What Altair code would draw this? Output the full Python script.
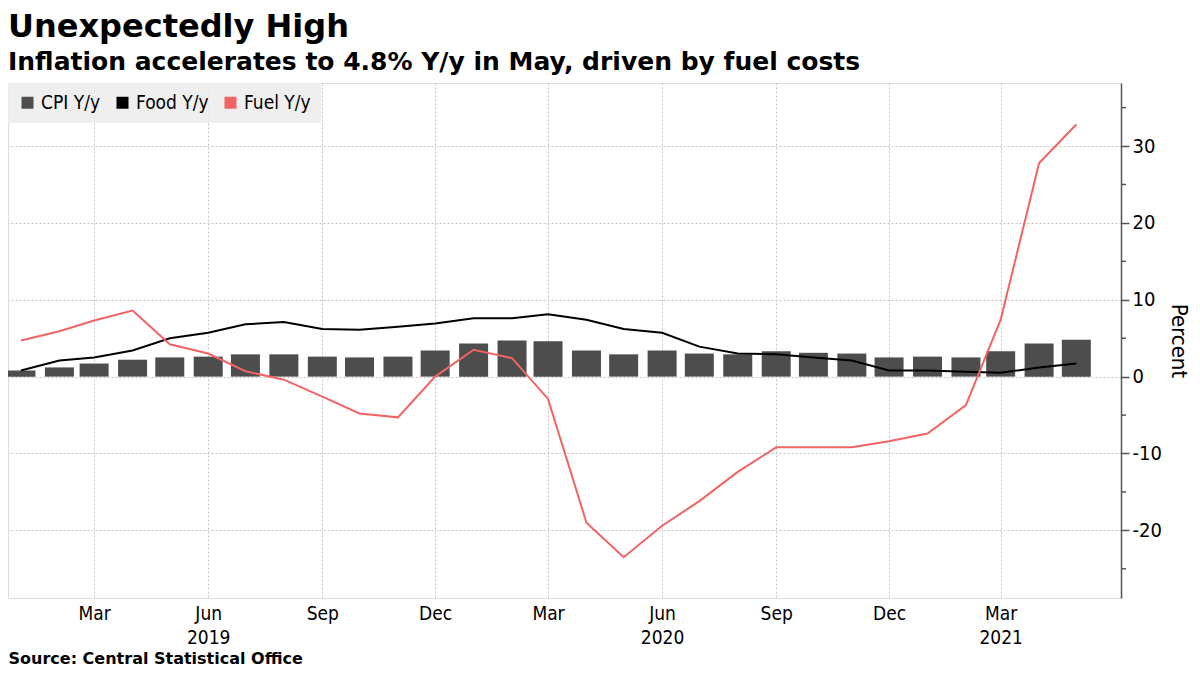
import altair as alt
import pandas as pd

months = [
    "2019-01-01", "2019-02-01", "2019-03-01", "2019-04-01", "2019-05-01", "2019-06-01",
    "2019-07-01", "2019-08-01", "2019-09-01", "2019-10-01", "2019-11-01", "2019-12-01",
    "2020-01-01", "2020-02-01", "2020-03-01", "2020-04-01", "2020-05-01", "2020-06-01",
    "2020-07-01", "2020-08-01", "2020-09-01", "2020-10-01", "2020-11-01", "2020-12-01",
    "2021-01-01", "2021-02-01", "2021-03-01", "2021-04-01", "2021-05-01",
]
cpi = [0.8, 1.2, 1.7, 2.2, 2.5, 2.6, 2.9, 2.9, 2.6, 2.5, 2.6, 3.4,
       4.3, 4.7, 4.6, 3.4, 2.9, 3.4, 3.0, 2.9, 3.3, 3.1, 3.0, 2.5,
       2.6, 2.5, 3.3, 4.3, 4.8]
food = [0.8, 2.1, 2.5, 3.4, 5.0, 5.7, 6.8, 7.1, 6.2, 6.1, 6.5, 6.9,
        7.6, 7.6, 8.1, 7.4, 6.2, 5.7, 3.9, 3.0, 2.9, 2.5, 2.1, 0.8,
        0.8, 0.65, 0.5, 1.2, 1.7]
fuel = [4.7, 5.9, 7.3, 8.6, 4.2, 3.0, 0.7, -0.4, -2.6, -4.8, -5.3, 0.0,
        3.5, 2.4, -2.9, -19.0, -23.5, -19.4, -16.2, -12.4, -9.2, -9.2, -9.2, -8.4,
        -7.4, -3.7, 7.4, 27.8, 32.8]

series_names = ["CPI Y/y", "Food Y/y", "Fuel Y/y"]
series_colors = ["#4d4d4d", "#000000", "#f26464"]

y_ticks = [-20, -10, 0, 10, 20, 30]
y_minor = [-25, -15, -5, 5, 15, 25, 35]
y_domain = [-28.8, 38.2]

x_tick_months = [(2019, 3), (2019, 6), (2019, 9), (2019, 12),
                 (2020, 3), (2020, 6), (2020, 9), (2020, 12), (2021, 3)]

rows = []
for name, vals in zip(series_names, [cpi, food, fuel]):
    for m, v in zip(months, vals):
        rows.append({"date": m, "series": name, "value": v})
df = pd.DataFrame(rows)
df_minor = pd.DataFrame({"value": y_minor})

W, H = 1113, 515
LABEL_FONT = "DejaVu Sans Condensed, DejaVu Sans"
TITLE_FONT = "DejaVu Sans"

x_scale = alt.Scale(
    type="utc", nice=False,
    domain=[alt.DateTime(year=2018, month=12, date=25, hours=14, utc=True),
            alt.DateTime(year=2021, month=6, date=2, utc=True)],
)
x_axis = alt.Axis(
    values=[alt.DateTime(year=y, month=m, date=1, utc=True) for y, m in x_tick_months],
    labelExpr=("[utcFormat(datum.value, '%b'), "
               "((utcmonth(datum.value) == 5 && utcyear(datum.value) < 2021) || "
               "(utcyear(datum.value) == 2021 && utcmonth(datum.value) == 2)) "
               "? utcFormat(datum.value, '%Y') : '']"),
    grid=True, gridDash=[2, 2], gridColor="#c4c4c4", gridWidth=1,
    domain=False, ticks=False,
    labelFont=LABEL_FONT, labelFontSize=19, labelColor="black",
    labelPadding=6, labelLineHeight=24, labelOverlap=False, labelFlush=False,
    title="Source: Central Statistical Office", titleAnchor="start", titleAlign="left",
    titleFont=TITLE_FONT, titleFontSize=16, titleFontWeight="bold", titleColor="black",
    titlePadding=3,
)
x_enc = alt.X("date:T", scale=x_scale, axis=x_axis)

y_scale = alt.Scale(domain=y_domain, nice=False, zero=False)
y_axis = alt.Axis(
    orient="right", values=y_ticks, title="Percent",
    labelExpr="'' + datum.value",
    grid=True, gridDash=[2, 2], gridColor="#c4c4c4", gridWidth=1,
    domainColor="#555555", domainWidth=1.5,
    tickColor="#555555", tickSize=8, tickWidth=1.5,
    labelFont=LABEL_FONT, labelFontSize=20, labelColor="black", labelPadding=3,
    titleFont=LABEL_FONT, titleFontSize=22, titleFontWeight="normal", titleColor="black",
    titlePadding=5,
)
y_enc = alt.Y("value:Q", scale=y_scale, axis=y_axis)

color_scale = alt.Scale(domain=series_names, range=series_colors)

bars = alt.Chart(df).transform_filter(alt.datum.series == "CPI Y/y").mark_bar(width=29).encode(
    x=x_enc,
    y=y_enc,
    color=alt.Color("series:N", scale=color_scale, legend=alt.Legend(
        orient="top-left", direction="horizontal", title=None,
        symbolType="square", symbolSize=144, symbolStrokeWidth=0,
        labelFont=LABEL_FONT, labelFontSize=19, labelColor="black",
        labelOffset=4, columnPadding=12, padding=10, offset=0,
        fillColor="rgba(236,236,236,0.85)",
    )),
)

lines = alt.Chart(df).transform_filter(alt.datum.series != "CPI Y/y").mark_line(strokeWidth=2).encode(
    x=x_enc,
    y=y_enc,
    color=alt.Color("series:N", scale=color_scale, legend=None),
    detail="series:N",
)

minor = alt.Chart(df_minor).mark_rule(color="#555555", strokeWidth=1.5).encode(
    y=y_enc,
    x=alt.value(W),
    x2=alt.value(W + 5),
)

chart = alt.layer(bars, lines, minor).properties(
    width=W, height=H,
    autosize=alt.AutoSizeParams(type="none"),
    padding={"left": 0, "top": 75, "right": 71, "bottom": 68},
    title=alt.TitleParams(
        text="Unexpectedly High",
        subtitle="Inflation accelerates to 4.8% Y/y in May, driven by fuel costs",
        anchor="start", frame="group",
        font=TITLE_FONT, fontSize=32, fontWeight="bold", color="black",
        subtitleFont=TITLE_FONT, subtitleFontSize=25, subtitleFontWeight="bold",
        subtitleColor="black", subtitlePadding=6, offset=7,
    ),
).configure_view(strokeWidth=0, stroke="transparent").configure(background="white")

chart.save("out.html", embed_options={"renderer": "svg", "actions": False})
